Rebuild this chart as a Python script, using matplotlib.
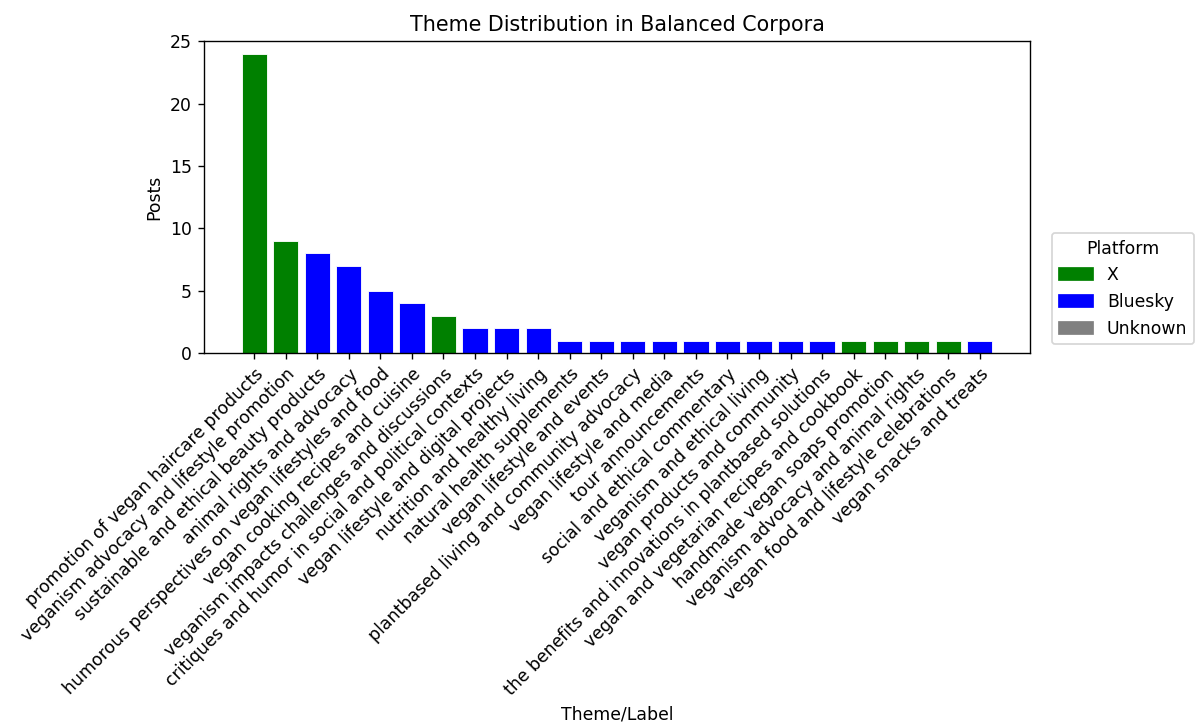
import matplotlib
matplotlib.use("Agg")
import matplotlib.pyplot as plt
from matplotlib.patches import Patch

themes = [
    "promotion of vegan haircare products",
    "veganism advocacy and lifestyle promotion",
    "sustainable and ethical beauty products",
    "animal rights and advocacy",
    "humorous perspectives on vegan lifestyles and food",
    "vegan cooking recipes and cuisine",
    "veganism impacts challenges and discussions",
    "critiques and humor in social and political contexts",
    "vegan lifestyle and digital projects",
    "nutrition and healthy living",
    "natural health supplements",
    "vegan lifestyle and events",
    "plantbased living and community advocacy",
    "vegan lifestyle and media",
    "tour announcements",
    "social and ethical commentary",
    "veganism and ethical living",
    "vegan products and community",
    "the benefits and innovations in plantbased solutions",
    "vegan and vegetarian recipes and cookbook",
    "handmade vegan soaps promotion",
    "veganism advocacy and animal rights",
    "vegan food and lifestyle celebrations",
    "vegan snacks and treats",
]
posts = [24, 9, 8, 7, 5, 4, 3, 2, 2, 2, 1, 1, 1, 1, 1, 1, 1, 1, 1, 1, 1, 1, 1, 1]
platforms = ["X", "X", "Bluesky", "Bluesky", "Bluesky", "Bluesky", "X",
             "Bluesky", "Bluesky", "Bluesky", "Bluesky", "Bluesky", "Bluesky",
             "Bluesky", "Bluesky", "Bluesky", "Bluesky", "Bluesky", "Bluesky",
             "X", "X", "X", "X", "Bluesky"]

platform_colors = {"X": "green", "Bluesky": "blue", "Unknown": "gray"}

dpi = 124
fig = plt.figure(figsize=(1198 / dpi, 722 / dpi), dpi=dpi)
ax = fig.add_axes([0.1703, 0.511, 0.6895, 0.432])

colors = [platform_colors[p] for p in platforms]
ax.bar(range(len(themes)), posts, color=colors, edgecolor="white", linewidth=0.5)
ax.set_xticks(range(len(themes)))
ax.set_xticklabels(themes, rotation=45, ha="right", rotation_mode="anchor")
ax.set_ylim(0, 25)
ax.set_ylabel("Posts")
ax.set_xlabel("Theme/Label")
ax.set_title("Theme Distribution in Balanced Corpora")

# legend sits outside the axes, bottom aligned
handles = [Patch(color=c, label=k) for k, c in platform_colors.items()]
ax.legend(handles=handles, title="Platform", loc="lower left",
          bbox_to_anchor=(1.016, 0.0))

fig.savefig("out.png", dpi=dpi)
